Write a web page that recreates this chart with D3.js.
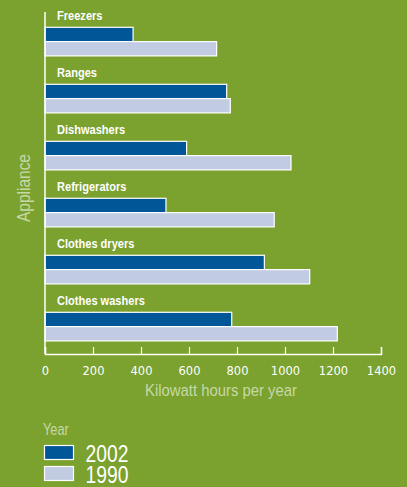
<!DOCTYPE html>
<html>
<head>
<meta charset="utf-8">
<script src="https://cdn.jsdelivr.net/npm/d3@7"></script>
<style>
  html, body { margin: 0; padding: 0; background: #7ba12f; }
  svg { display: block; }
</style>
</head>
<body>
<svg id="chart" width="407" height="487"></svg>
<script>
// Annual electricity use per appliance, kWh
const categories = ["Freezers", "Ranges", "Dishwashers", "Refrigerators", "Clothes dryers", "Clothes washers"];
const seriesNames = ["2002", "1990"];
const values2002 = [367, 757, 590, 504, 914, 778];
const values1990 = [715, 772, 1025, 955, 1103, 1218];
const xTicks = [0, 200, 400, 600, 800, 1000, 1200, 1400];

const colors = { "2002": "#005696", "1990": "#c1cce3" };
const bg = "#7ba12f";
const pale = "#c6d9a6";
const narrowFont = "'Liberation Sans', Arial, sans-serif";

const svg = d3.select("#chart");
svg.append("rect").attr("width", 407).attr("height", 487).attr("fill", bg);

const x = d3.scaleLinear().domain([0, 1400]).range([45, 381]);
const y = d3.scaleBand().domain(categories).range([0.3, 342.3]);
const ySub = d3.scaleBand().domain(seriesNames).range([27, 55.6]);

const rows = categories.map((c, i) => ({ cat: c, "2002": values2002[i], "1990": values1990[i] }));

const g = svg.append("g");

// category labels above each pair of bars (horizontally compressed)
g.selectAll("text.cat").data(rows).join("text")
  .attr("class", "cat")
  .attr("transform", d => `translate(57,${y(d.cat) + 19.3}) scale(0.82,1)`)
  .attr("fill", "#ffffff")
  .style("font-family", narrowFont)
  .style("font-weight", "bold")
  .style("font-size", "13.5px")
  .text(d => d.cat);

// bars
const groups = g.selectAll("g.row").data(rows).join("g")
  .attr("class", "row")
  .attr("transform", d => `translate(0,${y(d.cat)})`);

groups.selectAll("rect").data(d => seriesNames.map(s => ({ s, v: d[s] }))).join("rect")
  .attr("x", x(0))
  .attr("y", d => ySub(d.s))
  .attr("width", d => x(d.v) - x(0))
  .attr("height", ySub.bandwidth())
  .attr("fill", d => colors[d.s])
  .attr("stroke", "#ffffff")
  .attr("stroke-width", 1.2);

// vertical axis line
svg.append("line")
  .attr("x1", x(0)).attr("x2", x(0))
  .attr("y1", 12).attr("y2", 354)
  .attr("stroke", "#ffffff").attr("stroke-width", 1.5);

// x axis with ticks pointing up
const xAxis = d3.axisBottom(x).tickValues(xTicks).tickFormat(d3.format("d"))
  .tickSizeInner(-7).tickSizeOuter(-7).tickPadding(13);
const ax = svg.append("g").attr("transform", "translate(0,354)").call(xAxis);
ax.select(".domain").attr("stroke", "#ffffff").attr("stroke-width", 1.5);
ax.selectAll(".tick line").attr("stroke", "#ffffff").attr("stroke-width", 1.2);
ax.selectAll(".tick text")
  .attr("fill", "#ffffff")
  .style("font-family", "'DejaVu Sans', sans-serif")
  .style("font-size", "11.5px");

// axis titles
svg.append("text")
  .attr("transform", "translate(221,396) scale(0.9,1)")
  .attr("text-anchor", "middle")
  .attr("fill", pale)
  .style("font-family", narrowFont)
  .style("font-size", "16.5px")
  .text("Kilowatt hours per year");

svg.append("text")
  .attr("transform", "translate(29.5,188) rotate(-90) scale(0.86,1)")
  .attr("text-anchor", "middle")
  .attr("fill", pale)
  .style("font-family", narrowFont)
  .style("font-size", "18px")
  .text("Appliance");

// legend
const legend = svg.append("g");
legend.append("text")
  .attr("transform", "translate(43,435) scale(0.8,1)")
  .attr("fill", pale)
  .style("font-family", narrowFont)
  .style("font-size", "16px")
  .text("Year");

const legendY = d3.scaleBand().domain(seriesNames).range([445, 487]);
const items = legend.selectAll("g.item").data(seriesNames).join("g").attr("class", "item");
items.append("rect")
  .attr("x", 44.5)
  .attr("y", d => legendY(d) + 0.5)
  .attr("width", 29)
  .attr("height", 14)
  .attr("fill", d => colors[d])
  .attr("stroke", "#ffffff")
  .attr("stroke-width", 1.2);
items.append("text")
  .attr("transform", d => `translate(85.5,${legendY(d) + 16.5}) scale(0.84,1)`)
  .attr("fill", "#ffffff")
  .style("font-family", narrowFont)
  .style("font-size", "23px")
  .text(d => d);
</script>
</body>
</html>
